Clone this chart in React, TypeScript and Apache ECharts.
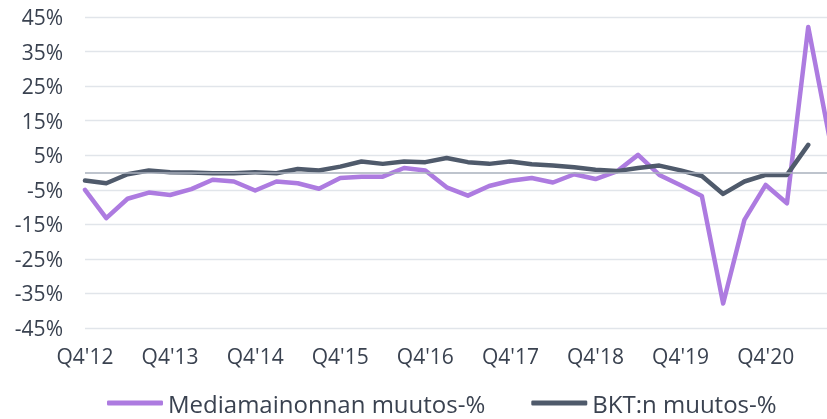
import React, { useEffect, useRef } from "react";
import * as echarts from "echarts";

const categories = [
  "Q4'12", "Q1'13", "Q2'13", "Q3'13", "Q4'13", "Q1'14", "Q2'14", "Q3'14",
  "Q4'14", "Q1'15", "Q2'15", "Q3'15", "Q4'15", "Q1'16", "Q2'16", "Q3'16",
  "Q4'16", "Q1'17", "Q2'17", "Q3'17", "Q4'17", "Q1'18", "Q2'18", "Q3'18",
  "Q4'18", "Q1'19", "Q2'19", "Q3'19", "Q4'19", "Q1'20", "Q2'20", "Q3'20",
  "Q4'20", "Q1'21", "Q2'21", "Q3'21",
];

const mediaChange = [
  -5, -13.2, -7.6, -5.8, -6.5, -4.8, -2.1, -2.6,
  -5.2, -2.6, -3.1, -4.7, -1.6, -1.2, -1.2, 1.3,
  0.6, -4.3, -6.7, -3.9, -2.4, -1.6, -2.9, -0.5,
  -1.9, 0.3, 5.1, -0.7, -3.7, -6.8, -37.9, -13.7,
  -3.6, -8.9, 42.1, 10,
];

const gdpChange = [
  -2.3, -3.1, -0.5, 0.6, 0.1, 0, -0.2, -0.2,
  0.1, -0.2, 1.0, 0.6, 1.7, 3.2, 2.5, 3.2,
  3.0, 4.2, 3.0, 2.5, 3.2, 2.4, 2.0, 1.5,
  0.8, 0.4, 1.3, 2.0, 0.6, -1.0, -6.2, -2.6,
  -0.7, -0.7, 8.0, null,
];

const seriesNames = ["Mediamainonnan muutos-%", "BKT:n muutos-%"];

export default function App() {
  const ref = useRef<HTMLDivElement>(null);
  useEffect(() => {
    if (!ref.current) return;
    const chart = echarts.init(ref.current, null, { renderer: "svg" });
    const font = "Open Sans";
    const textColor = "#3a4250";
    chart.setOption({
      animation: false,
      grid: { left: 85, right: 0.5, top: 17, bottom: 91 },
      legend: {
        data: seriesNames.map((n, i) => ({
          name: n,
          icon: "roundRect",
          itemStyle: { color: i === 0 ? "#ad7be0" : "#4f5a6b" },
        })),
        left: 107,
        top: 391,
        padding: 0,
        itemWidth: 56,
        itemHeight: 5,
        itemGap: 46,
        textStyle: { fontFamily: font, fontSize: 24, lineHeight: 24, color: textColor },
      },
      xAxis: {
        type: "category",
        data: categories,
        boundaryGap: false,
        axisLine: { show: false },
        axisTick: { show: false },
        axisLabel: {
          interval: 3,
          fontFamily: font,
          fontSize: 21,
          color: textColor,
          margin: 17,
        },
      },
      yAxis: {
        type: "value",
        min: -45,
        max: 45,
        interval: 10,
        axisLine: { show: false },
        axisTick: { show: false },
        splitLine: { lineStyle: { color: "#e1e5ea", width: 1.3 } },
        axisLabel: {
          formatter: "{value}%",
          fontFamily: font,
          fontSize: 21,
          color: textColor,
          margin: 22,
        },
      },
      series: [
        {
          name: "zero",
          type: "line",
          data: [],
          z: 1,
          markLine: {
            silent: true,
            symbol: "none",
            label: { show: false },
            lineStyle: { color: "#a9b1bd", width: 1.6, type: "solid" },
            data: [{ yAxis: 0 }],
          },
        },
        {
          name: seriesNames[0],
          type: "line",
          data: mediaChange,
          showSymbol: false,
          z: 3,
          lineStyle: { color: "#ad7be0", width: 4.5, cap: "round", join: "round" },
          itemStyle: { color: "#ad7be0" },
        },
        {
          name: seriesNames[1],
          type: "line",
          data: gdpChange,
          showSymbol: false,
          z: 4,
          lineStyle: { color: "#4f5a6b", width: 4.5, cap: "round", join: "round" },
          itemStyle: { color: "#4f5a6b" },
        },
      ],
    });
    return () => chart.dispose();
  }, []);
  return (
    <div
      ref={ref}
      style={{ position: "fixed", left: 0, top: 0, width: 830, height: 419 }}
    />
  );
}
